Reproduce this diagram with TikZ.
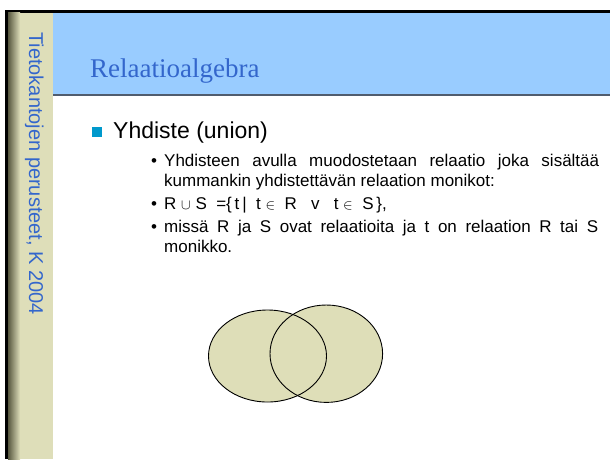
\documentclass[tikz,border=0pt]{standalone}
\usepackage{fontspec}
\setmainfont{Liberation Sans}
\newfontfamily\titlefont{Liberation Serif}
\newcommand{\relsym}[1]{{\fontsize{14}{14}\selectfont$#1$}}
\definecolor{headblue}{RGB}{153,204,255}
\definecolor{headline}{RGB}{80,92,110}
\definecolor{sidebeige}{RGB}{222,222,185}
\definecolor{sidedark}{RGB}{88,88,64}
\definecolor{textblue}{RGB}{51,102,204}
\definecolor{squareblue}{RGB}{0,153,204}
\definecolor{vennfill}{RGB}{222,222,184}
\begin{document}
\begin{tikzpicture}[x=1pt, y=-1pt,
  txt/.style={anchor=base west, inner sep=0pt, font=\fontsize{17}{20}\selectfont},
  dot/.style={anchor=base west, inner sep=0pt, font=\fontsize{17}{20}\selectfont}]
  \useasboundingbox (0,0) rectangle (610,459);
  % Frame and side bar
  \fill[black] (5,10) rectangle (610,12.7); % Top border
  \fill[black] (5,10) rectangle (8,459); % Left border
  \shade[left color=sidedark, right color=sidebeige] (8,12.7) rectangle (20,459); % Shadow edge
  \fill[sidebeige] (20,12.7) rectangle (53,459); % Side bar
  \node[rotate=-90, anchor=base west, inner sep=0pt, text=textblue,
    font=\fontsize{20}{24}\selectfont] (side) at (29,32) {Tietokantojen perusteet, K 2004};

  % Header with title
  \fill[headblue] (53,12.7) rectangle (610,94);
  \fill[headline] (53,94) rectangle (610,95.5); % Line under header
  \node[anchor=base west, inner sep=0pt, text=textblue,
    font=\titlefont\fontsize{27}{32}\selectfont] (title) at (90,77) {Relaatioalgebra};

  % Main bullet
  \fill[squareblue] (92,127) rectangle (102,137); % Square bullet
  \node[anchor=base west, inner sep=0pt, font=\fontsize{23}{28}\selectfont] (union) at (113,138) {Yhdiste (union)};

  % Sub bullets
  \foreach \y in {166,209,232} {
    \node[dot] (b\y) at (151,\y) {\textbullet};
  }
  \node[txt] (lineA) at (164,166) {\makebox[435pt][s]{Yhdisteen avulla muodostetaan relaatio joka sisältää}};
  \node[txt] (lineB) at (164,186) {kummankin yhdistettävän relaation monikot:};
  \node[txt] (lineC) at (164,209) {R \relsym{\cup} S \ =\{\,t\,|\ \ t \relsym{\in}\ \ R\ \ \ v\ \ \ t \relsym{\in}\ \ S\,\},};
  \node[txt] (lineD) at (164,232) {\makebox[434pt][s]{missä R ja S ovat relaatioita ja t on relaation R tai S}};
  \node[txt] (lineE) at (164,252) {monikko.};

  % Union of R and S
  \fill[vennfill] (267.5,356) ellipse (59 and 46);
  \fill[vennfill] (326.3,353.7) ellipse (56.3 and 48.7);
  \draw[line width=0.9pt] (267.5,356) ellipse (59 and 46); % Set R
  \draw[line width=0.9pt] (326.3,353.7) ellipse (56.3 and 48.7); % Set S
\end{tikzpicture}
\end{document}
